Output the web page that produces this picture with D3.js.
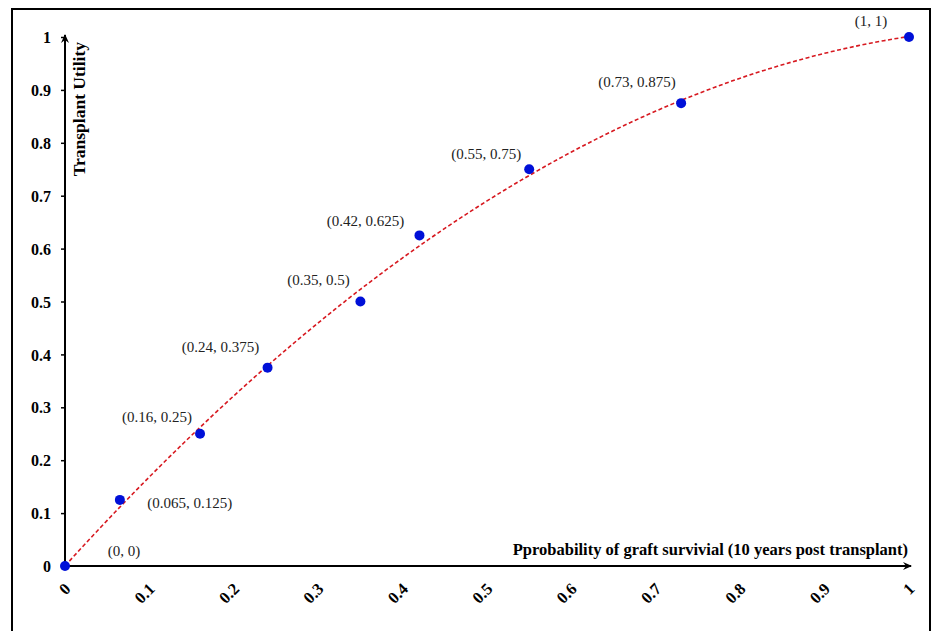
<!DOCTYPE html>
<html>
<head>
<meta charset="utf-8">
<script src="https://cdn.jsdelivr.net/npm/d3@7"></script>
<style>
  html, body { margin: 0; padding: 0; background: #fff; }
  svg { display: block; }
</style>
</head>
<body>
<svg id="chart" width="932" height="631"></svg>
<script>
// ---- data ----
const survival = [0, 0.065, 0.16, 0.24, 0.35, 0.42, 0.55, 0.73, 1];
const utility  = [0, 0.125, 0.25, 0.375, 0.5, 0.625, 0.75, 0.875, 1];
const pointLabels = ["(0, 0)", "(0.065, 0.125)", "(0.16, 0.25)", "(0.24, 0.375)", "(0.35, 0.5)",
                     "(0.42, 0.625)", "(0.55, 0.75)", "(0.73, 0.875)", "(1, 1)"];
const xTicks = [0, 0.1, 0.2, 0.3, 0.4, 0.5, 0.6, 0.7, 0.8, 0.9, 1];
const yTicks = [0, 0.1, 0.2, 0.3, 0.4, 0.5, 0.6, 0.7, 0.8, 0.9, 1];
const xTitle = "Pprobability of graft survivial (10 years post transplant)";
const yTitle = "Transplant Utility";

// label placement (pixel offsets of label centre from the point)
const labelOffsets = [[59, -10], [70, 8], [-43, -12], [-47, -16], [-42, -17],
                      [-54, -9], [-43, -10], [-44, -16], [-38, -11]];

const svg = d3.select("#chart");
const font = "'Liberation Serif', 'Times New Roman', serif";

// frame
svg.append("rect").attr("x", 12).attr("y", 9).attr("width", 918).attr("height", 640)
  .attr("fill", "none").attr("stroke", "#000").attr("stroke-width", 2);

const x = d3.scaleLinear().domain([0, 1]).range([65, 909]);
const y = d3.scaleLinear().domain([0, 1]).range([566, 37]);

const defs = svg.append("defs");
defs.append("marker").attr("id", "arrow").attr("viewBox", "0 0 10 10")
  .attr("refX", 8).attr("refY", 5).attr("markerWidth", 10).attr("markerHeight", 10)
  .attr("markerUnits", "userSpaceOnUse").attr("orient", "auto")
  .append("path").attr("d", "M0,1 L9,5 L0,9 L3,5 Z").attr("fill", "#000");

// y axis
const yAxis = d3.axisLeft(y).tickValues(yTicks).tickFormat(d3.format("")).tickSize(4).tickPadding(10);
const gy = svg.append("g").attr("transform", `translate(${x(0)},0)`).call(yAxis);
gy.select(".domain").remove();
gy.selectAll(".tick line").attr("stroke", "#000").attr("stroke-width", 1.5);
gy.selectAll(".tick text").attr("font-family", font).attr("font-weight", "bold")
  .attr("font-size", 16).attr("fill", "#000").attr("dy", "0.35em");

// x axis (labels only, rotated)
const xAxis = d3.axisBottom(x).tickValues(xTicks).tickFormat(d3.format("")).tickSize(0);
const gx = svg.append("g").attr("transform", `translate(0,${y(0)})`).call(xAxis);
gx.select(".domain").remove();
gx.selectAll(".tick text").attr("font-family", font).attr("font-weight", "bold")
  .attr("font-size", 16.5).attr("fill", "#000")
  .attr("y", 0).attr("dy", 0)
  .attr("text-anchor", "end")
  .attr("transform", "translate(6,24) rotate(-45)");

// axis lines with arrows
svg.append("line").attr("x1", x(0)).attr("y1", y(0)).attr("x2", x(1) + 2).attr("y2", y(0))
  .attr("stroke", "#000").attr("stroke-width", 2).attr("marker-end", "url(#arrow)");
svg.append("line").attr("x1", x(0)).attr("y1", y(0)).attr("x2", x(0)).attr("y2", y(1) - 2)
  .attr("stroke", "#000").attr("stroke-width", 2).attr("marker-end", "url(#arrow)");

// axis titles
svg.append("text").attr("x", 908).attr("y", 555).attr("text-anchor", "end")
  .attr("font-family", font).attr("font-weight", "bold").attr("font-size", 16.5)
  .text(xTitle);
svg.append("text").attr("transform", "translate(85,42) rotate(-90)").attr("text-anchor", "end")
  .attr("font-family", font).attr("font-weight", "bold").attr("font-size", 17.5)
  .text(yTitle);

// polynomial (order 2) least-squares trend line from the data
function polyfit2(xs, ys) {
  let S = [[0,0,0],[0,0,0],[0,0,0]], T = [0,0,0];
  xs.forEach((xi, i) => {
    const p = [1, xi, xi*xi];
    for (let r = 0; r < 3; r++) { T[r] += p[r]*ys[i]; for (let c = 0; c < 3; c++) S[r][c] += p[r]*p[c]; }
  });
  const A = S.map((row, i) => row.concat([T[i]]));
  for (let i = 0; i < 3; i++) {
    for (let k = i + 1; k < 3; k++) {
      const f = A[k][i] / A[i][i];
      for (let j = i; j < 4; j++) A[k][j] -= f * A[i][j];
    }
  }
  const b = [0,0,0];
  for (let i = 2; i >= 0; i--) {
    let s = A[i][3];
    for (let j = i + 1; j < 3; j++) s -= A[i][j]*b[j];
    b[i] = s / A[i][i];
  }
  return b;
}
const coef = polyfit2(survival, utility);
const trendX = d3.range(0, 1.0001, 0.01);
const trendLine = d3.line().x(d => x(d)).y(d => y(coef[0] + coef[1]*d + coef[2]*d*d));
svg.append("path").datum(trendX).attr("d", trendLine)
  .attr("fill", "none").attr("stroke", "#d71920").attr("stroke-width", 1.6)
  .attr("stroke-dasharray", "4,2.5");

// points
const pts = survival.map((s, i) => ({ s, u: utility[i], label: pointLabels[i], off: labelOffsets[i] }));
svg.append("g").selectAll("circle").data(pts).join("circle")
  .attr("cx", d => x(d.s)).attr("cy", d => y(d.u)).attr("r", 5)
  .attr("fill", "#0010d8");

// point labels
svg.append("g").selectAll("text").data(pts).join("text")
  .attr("x", d => x(d.s) + d.off[0]).attr("y", d => y(d.u) + d.off[1])
  .attr("text-anchor", "middle")
  .attr("font-family", font).attr("font-size", 15).attr("fill", "#222")
  .text(d => d.label);
</script>
</body>
</html>
